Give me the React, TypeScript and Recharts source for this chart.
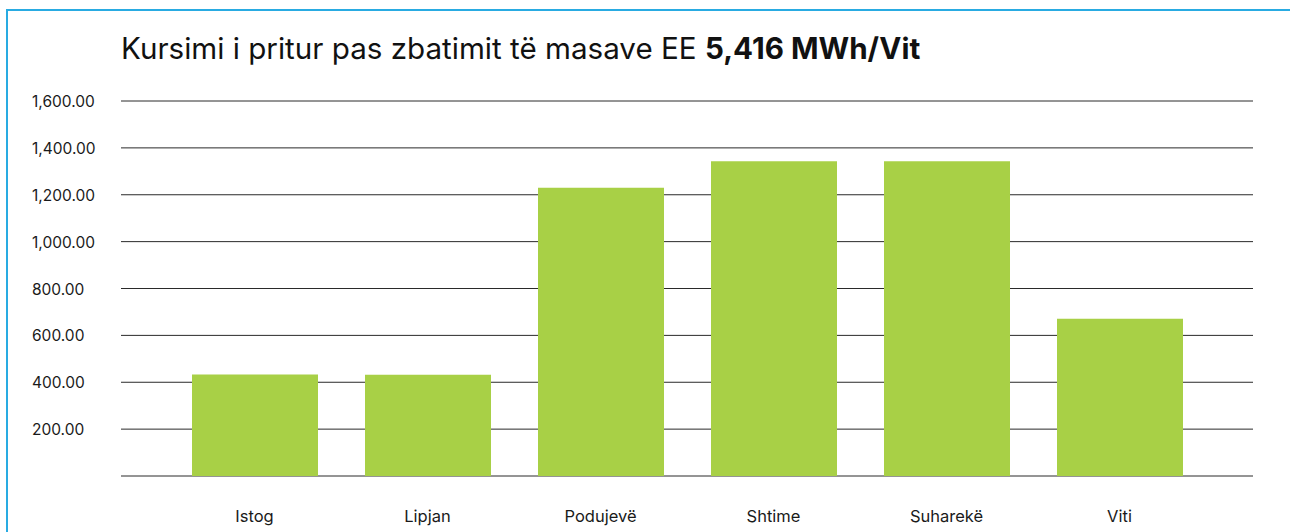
import React from 'react';
import { BarChart, Bar, XAxis, YAxis, CartesianGrid } from 'recharts';

const municipalities = ['Istog', 'Lipjan', 'Podujevë', 'Shtime', 'Suharekë', 'Viti'];
const savings = [433, 432, 1230, 1343, 1343, 671];
const yTicks = [0, 200, 400, 600, 800, 1000, 1200, 1400, 1600];

const data = municipalities.map((name, i) => ({ name, value: savings[i] }));

const fmt = (v: number) =>
  v.toLocaleString('en-US', { minimumFractionDigits: 2, maximumFractionDigits: 2 });

const FONT = 'Inter, "Noto Sans", sans-serif';

const YTick = ({ y, payload }: any) => {
  if (payload.value === 0) return null;
  return (
    <text x={32} y={y} dy={6} textAnchor="start" fill="#1a1a1a" fontSize={15.5} fontFamily={FONT}>
      {fmt(payload.value)}
    </text>
  );
};

const XTick = ({ x, y, payload }: any) => (
  <text x={x} y={y} dy={45.5} textAnchor="middle" fill="#1a1a1a" fontSize={16.5} fontFamily={FONT}>
    {payload.value}
  </text>
);

export default function App() {
  return (
    <div style={{ position: 'absolute', left: 0, top: 0, width: 1290, height: 532, background: '#fff', overflow: 'hidden' }}>
      {/* light blue frame, only left and top edges visible */}
      <div
        style={{
          position: 'absolute',
          left: 6,
          top: 9,
          width: 1300,
          height: 540,
          borderLeft: '2px solid #29abe2',
          borderTop: '2px solid #29abe2',
        }}
      />
      <div
        style={{
          position: 'absolute',
          left: 121,
          top: 30,
          fontFamily: FONT,
          fontSize: 29.6,
          color: '#111',
          whiteSpace: 'nowrap',
          lineHeight: '36px',
        }}
      >
        Kursimi i pritur pas zbatimit të masave EE <b style={{ fontWeight: 700 }}>5,416 MWh/Vit</b>
      </div>
      <div style={{ position: 'absolute', left: 0, top: 0 }}>
        <BarChart
          width={1290}
          height={532}
          data={data}
          margin={{ top: 101, right: 37, left: 0, bottom: 0 }}
        >
          <CartesianGrid vertical={false} stroke="#2a2a2a" strokeWidth={1} />
          <XAxis
            dataKey="name"
            axisLine={false}
            tickLine={false}
            tickSize={0}
            tickMargin={0}
            padding={{ left: 47, right: 47 }}
            tick={<XTick />}
            interval={0}
            height={56}
          />
          <YAxis
            width={121}
            domain={[0, 1600]}
            ticks={yTicks}
            axisLine={false}
            tickLine={false}
            tick={<YTick />}
          />
          <Bar dataKey="value" fill="#a8d046" barSize={126} isAnimationActive={false} />
        </BarChart>
      </div>
    </div>
  );
}
